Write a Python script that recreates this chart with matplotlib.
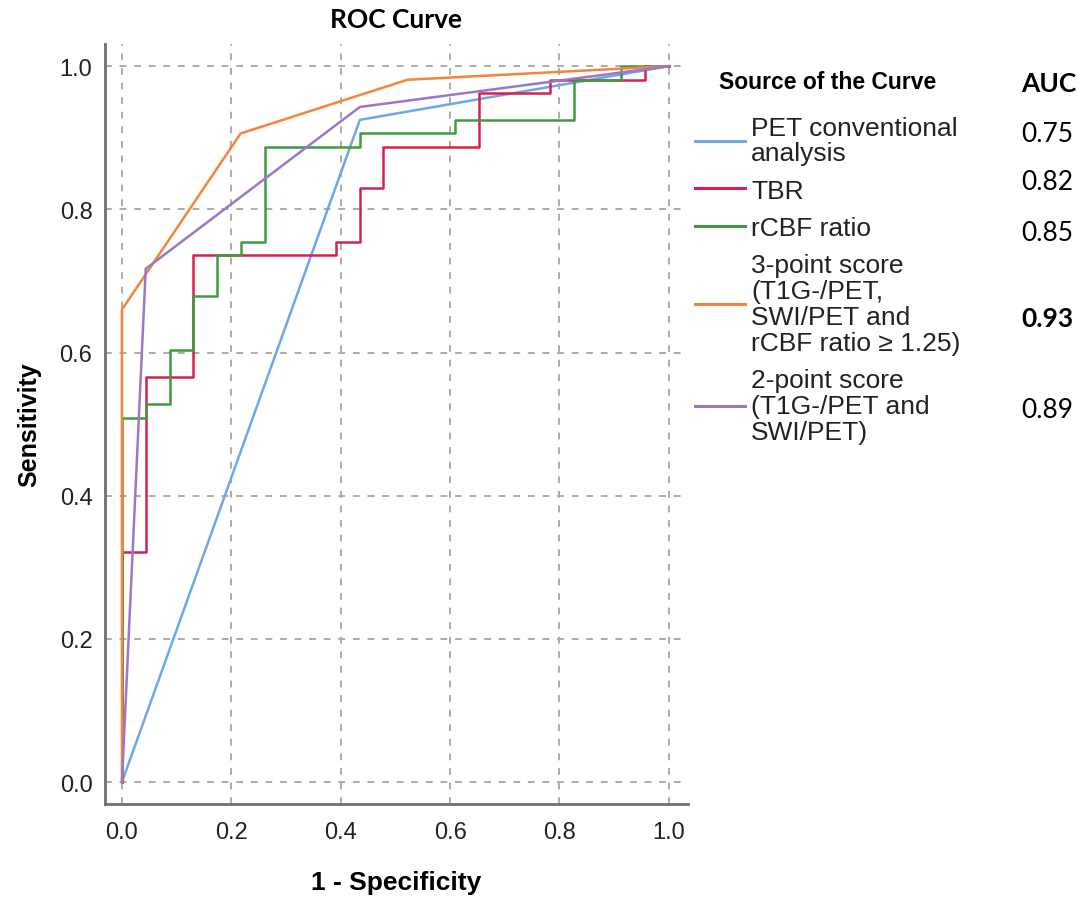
import matplotlib
matplotlib.use("Agg")
import matplotlib.pyplot as plt

# ROC curve points (1 - specificity, sensitivity)
pet_x = [0.0, 0.435, 1.0]
pet_y = [0.0, 0.925, 1.0]

tbr_x = [0.0, 0.0, 0.0435, 0.130, 0.391, 0.435, 0.478, 0.652, 0.783, 0.957, 1.0]
tbr_y = [0.0, 0.321, 0.566, 0.736, 0.755, 0.830, 0.887, 0.962, 0.981, 1.0, 1.0]

rcbf_x = [0.0, 0.0, 0.0435, 0.087, 0.130, 0.174, 0.217, 0.261, 0.435, 0.609, 0.826, 0.913, 1.0]
rcbf_y = [0.0, 0.509, 0.528, 0.604, 0.679, 0.736, 0.755, 0.887, 0.906, 0.925, 0.981, 1.0, 1.0]

three_x = [0.0, 0.0, 0.217, 0.522, 1.0]
three_y = [0.0, 0.660, 0.906, 0.981, 1.0]

two_x = [0.0, 0.0435, 0.435, 1.0]
two_y = [0.0, 0.717, 0.943, 1.0]

labels = ["PET conventional\nanalysis", "TBR", "rCBF ratio",
          "3-point score\n(T1G-/PET,\nSWI/PET and\nrCBF ratio \u2265 1.25)",
          "2-point score\n(T1G-/PET and\nSWI/PET)"]
auc_values = ["0.75", "0.82", "0.85", "0.93", "0.89"]
auc_bold = [False, False, False, True, False]
ticks = [0.0, 0.2, 0.4, 0.6, 0.8, 1.0]

colors = ["#6ea8e6", "#d6214f", "#3f9a40", "#f4843f", "#9b78c6"]

plt.rcParams['font.family'] = ['Liberation Sans', 'DejaVu Sans']

fig = plt.figure(figsize=(10.78, 9.03), dpi=100)
ax = fig.add_axes([0.0974, 0.1085, 0.5408, 0.8417])

ax.plot(pet_x, pet_y, color=colors[0], lw=1.8, label=labels[0])
ax.plot(tbr_x, tbr_y, color=colors[1], lw=1.8, drawstyle="steps-post", label=labels[1])
ax.plot(rcbf_x, rcbf_y, color=colors[2], lw=1.8, drawstyle="steps-post", label=labels[2])
ax.plot(three_x, three_y, color=colors[3], lw=1.8, label=labels[3])
ax.plot(two_x, two_y, color=colors[4], lw=1.8, label=labels[4])

ax.set_xlim(-0.031, 1.035)
ax.set_ylim(-0.0307, 1.031)
ax.set_xticks(ticks)
ax.set_yticks(ticks)
ax.set_xticklabels([f"{t:.1f}" for t in ticks])
ax.set_yticklabels([f"{t:.1f}" for t in ticks])
ax.tick_params(length=0, labelsize=17, labelcolor="#222222")
ax.tick_params(axis="x", pad=12)
ax.tick_params(axis="y", pad=9)
ax.grid(True, color="#ababab", linestyle=(0, (3.5, 4)), lw=1.4)
ax.set_axisbelow(True)
for s in ["top", "right"]:
    ax.spines[s].set_visible(False)
for s in ["left", "bottom"]:
    ax.spines[s].set_color("#707070")
    ax.spines[s].set_linewidth(2)

ax.set_xlabel("1 - Specificity", fontsize=19, fontweight="bold", labelpad=20)
ax.set_ylabel("Sensitivity", fontsize=18, fontweight="bold", labelpad=13)
ax.set_title("ROC Curve", fontsize=19, fontweight="bold", family=["Lato", "DejaVu Sans"], pad=12)

leg = ax.legend(loc="upper left", bbox_to_anchor=(0.645, 0.921), bbox_transform=fig.transFigure,
                frameon=False, fontsize=19, handlelength=1.9, handletextpad=0.22,
                labelspacing=0.5, borderpad=0, borderaxespad=0,
                title="Source of the Curve",
                title_fontproperties={"size": 16.5, "weight": "bold"})
for t in leg.get_texts():
    t.set_linespacing(1.1)
    t.set_color("#222222")
for h in leg.legend_handles:
    h.set_linewidth(2.2)
leg._legend_box.sep = 16

fig.text(1021 / 1078, 1 - 84 / 903, "AUC", fontsize=19, fontweight="bold",
         family=["Lato", "DejaVu Sans"], va="center", ha="left")
auc_y = [134, 183, 234, 319, 411]
for v, b, yp in zip(auc_values, auc_bold, auc_y):
    fig.text(1021 / 1078, 1 - yp / 903, v, fontsize=19, fontweight="bold" if b else "normal",
             family=["Lato", "DejaVu Sans"], va="center", ha="left")

fig.savefig("out.png", dpi=100)
